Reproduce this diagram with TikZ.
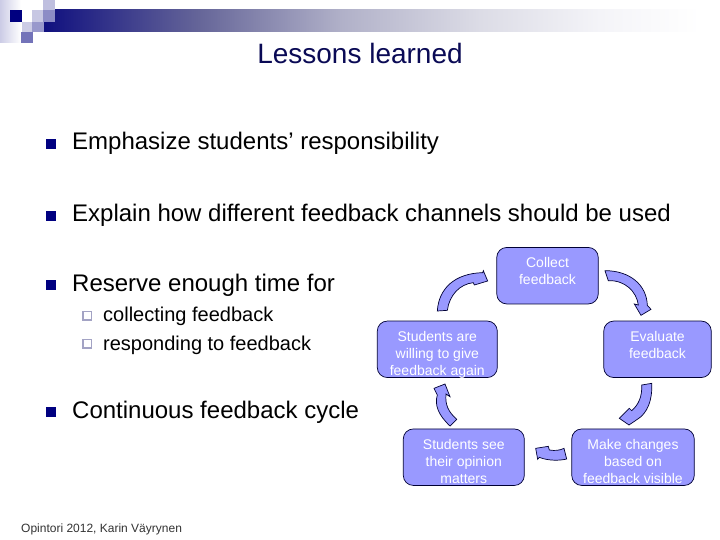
\documentclass[tikz,border=0pt]{standalone}
\usepackage{fontspec}
\setmainfont{Liberation Sans}
\definecolor{navy}{HTML}{000080}
\definecolor{boxfill}{HTML}{9999FF}
\definecolor{boxline}{HTML}{000033}
\definecolor{titlecol}{HTML}{0A0A55}
\definecolor{subbul}{HTML}{A3A3C4}
\definecolor{bandA}{HTML}{10107F}
\definecolor{bandB}{HTML}{666699}
\definecolor{bandC}{HTML}{B0B0C8}
\definecolor{bandD}{HTML}{DCDCE6}
\definecolor{bandE}{HTML}{F4F4F8}
\definecolor{sideA}{HTML}{CCCCE6}
\begin{document}
\begin{tikzpicture}[x=1pt,y=-1pt,
  body/.style={anchor=base west,inner sep=0pt,font=\fontsize{24}{28}\selectfont,text=black},
  sub/.style={anchor=base west,inner sep=0pt,font=\fontsize{20}{24}\selectfont,text=black},
  bull/.style={fill=navy,draw=none},
  subb/.style={draw=subbul,line width=1.8pt,fill=white},
  cyclebox/.style={draw=boxline,line width=0.7pt,fill=boxfill,rounded corners=10pt,minimum width=#1,inner sep=0pt,minimum height=56.5pt},
  cyclebox/.default=100pt,
  cycletext/.style={anchor=north,inner sep=0pt,align=center,text=white,font=\fontsize{14}{17}\selectfont},
  blockarrow/.style={draw=boxline,line width=0.7pt,fill=boxfill,line join=miter}]
\useasboundingbox (0,0) rectangle (720,540);
\fill[white] (0,0) rectangle (720,540);
% banner
\shade[left color=sideA,right color=white,draw=none] (0,0) rectangle (21,43);
\shade[left color=bandA,right color=bandB] (44,10) rectangle (200,32);
\shade[left color=bandB,right color=bandC] (200,10) rectangle (340,32);
\shade[left color=bandC,right color=bandD] (340,10) rectangle (480,32);
\shade[left color=bandD,right color=bandE] (480,10) rectangle (600,32);
\shade[left color=bandE,right color=white] (600,10) rectangle (700,32);
\fill[white] (21,0) rectangle (43,10);
\fill[white] (22,10) rectangle (32,22);
\fill[navy] (10,10) rectangle (22,22);
\fill[navy!22!white] (32,10) rectangle (43,22);
\fill[navy!25!white] (43,0) rectangle (55,10);
\fill[navy!45!white] (43,10) rectangle (55,22);
\fill[navy!20!white] (22,22) rectangle (32,32);
\fill[navy!40!white] (32,22) rectangle (44,32);
\fill[navy!55!white] (21,32) rectangle (33,43);
% title
\node[anchor=base,inner sep=0pt,text=titlecol,font=\fontsize{28}{32}\selectfont] (title) at (360,64) {Lessons learned};
% bullets
\node[body] (l1) at (72,150) {Emphasize students’ responsibility};
\node[body] (l2) at (72,222) {Explain how different feedback channels should be used};
\node[body] (l3) at (72,291) {Reserve enough time for};
\node[sub] (s1) at (103,321) {collecting feedback};
\node[sub] (s2) at (103,350) {responding to feedback};
\node[body] (l4) at (72,418) {Continuous feedback cycle};
\fill[bull] (46,139) rectangle (56,149);
\fill[bull] (46,211) rectangle (56,221);
\fill[bull] (46,280) rectangle (56,290);
\fill[bull] (46,407) rectangle (56,417);
\draw[subb] (82.7,311.5) rectangle (91.5,320.3);
\draw[subb] (82.7,339.5) rectangle (91.5,348.3);
% boxes
\node[cyclebox=101.5pt] (collect) at (547.5,275.7) {};
\node[cyclebox=120pt] (willing) at (437.3,349.3) {};
\node[cyclebox=107.5pt] (evaluate) at (657.5,349.3) {};
\node[cyclebox=121pt] (see) at (463.8,457.2) {};
\node[cyclebox=122.5pt] (make) at (633,457.2) {};
\node[cycletext] (tcollect) at (547.5,257.5) {Collect\\feedback};
\node[cycletext] (twilling) at (437.3,331) {Students are\\willing to give\\feedback again};
\node[cycletext] (tevaluate) at (657.5,331.5) {Evaluate\\feedback};
\node[cycletext] (tsee) at (463.8,439) {Students see\\their opinion\\matters};
\node[cycletext] (tmake) at (633,439) {Make changes\\based on\\feedback visible};
% block arrows
\begin{scope}[shift={(360,230)},x=.33333pt,y=-.33333pt]
\draw[blockarrow] (232,243) .. controls (236,175) and (285,130) .. (368,128) -- (370,122) -- (383,153) -- (343,165) -- (340,158) .. controls (300,162) and (268,195) .. (262,241) -- cycle;
\draw[blockarrow] (735,122) .. controls (810,122) and (860,165) .. (862,226) -- (873,238) -- (843,256) -- (823,222) -- (835,225) .. controls (830,185) and (795,150) .. (745,152) -- cycle;
\end{scope}
\begin{scope}[shift={(360,380)},x=.33333pt,y=-.33333pt]
\draw[blockarrow] (875,10) .. controls (878,60) and (862,100) .. (832,118) -- (807,135) -- (778,115) -- (808,85) -- (815,92) .. controls (835,75) and (847,50) .. (845,15) -- cycle;
\draw[blockarrow] (620,237) .. controls (600,242) and (565,243) .. (538,232) -- (533,238) -- (527,205) -- (565,199) -- (568,210) .. controls (585,213) and (600,211) .. (612,205) -- cycle;
\draw[blockarrow] (270,138) .. controls (235,105) and (223,75) .. (232,45) -- (222,25) -- (255,12) -- (270,50) -- (258,42) .. controls (255,75) and (265,95) .. (290,118) -- cycle;
\end{scope}
% footer
\node[anchor=base west,inner sep=0pt,font=\fontsize{12}{14}\selectfont,text=black!80] (foot) at (21,532) {Opintori 2012, Karin Väyrynen};
\end{tikzpicture}
\end{document}
